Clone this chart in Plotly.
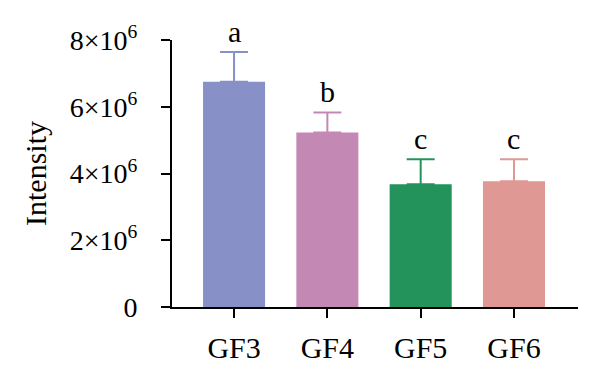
import plotly.graph_objects as go

categories = ["GF3", "GF4", "GF5", "GF6"]
means = [6.75e6, 5.23e6, 3.68e6, 3.77e6]
errors = [0.89e6, 0.60e6, 0.75e6, 0.66e6]
letters = ["a", "b", "c", "c"]
colors = ["#8890c8", "#c389b4", "#23925b", "#e09894"]
ytick_vals = [0, 2e6, 4e6, 6e6, 8e6]
ytick_text = ["0", "2×10<sup>6</sup>", "4×10<sup>6</sup>", "6×10<sup>6</sup>", "8×10<sup>6</sup>"]

FONT = "Liberation Serif"
FS = 30

fig = go.Figure()
for c, m, e, col in zip(categories, means, errors, colors):
    fig.add_trace(go.Bar(
        x=[c], y=[m], width=0.665,
        marker=dict(color=col, line=dict(width=0)),
        error_y=dict(type="data", array=[e], arrayminus=[0], symmetric=False,
                     color=col, thickness=2, width=14),
        showlegend=False,
    ))

for c, m, e, t in zip(categories, means, errors, letters):
    fig.add_annotation(x=c, y=m + e, text=t, showarrow=False,
                       yanchor="bottom", yshift=2,
                       font=dict(family=FONT, size=FS, color="black"))

fig.update_layout(
    width=592, height=373,
    margin=dict(l=164, r=22, t=32, b=74),
    paper_bgcolor="white", plot_bgcolor="white",
    barmode="overlay",
    font=dict(family=FONT, size=FS, color="black"),
)
fig.update_xaxes(
    range=[-0.665, 3.686],
    showline=True, linecolor="black", linewidth=2,
    ticks="outside", ticklen=9, tickwidth=2, tickcolor="black",
    showgrid=False, zeroline=False,
    tickfont=dict(family=FONT, size=FS), ticklabelstandoff=4,
)
fig.update_yaxes(
    range=[0, 8e6],
    tickvals=ytick_vals, ticktext=ytick_text,
    showline=True, linecolor="black", linewidth=2,
    ticks="outside", ticklen=9, tickwidth=2, tickcolor="black",
    showgrid=False, zeroline=False,
    tickfont=dict(family=FONT, size=28), ticklabelstandoff=18,
    title=dict(text="Intensity", font=dict(family=FONT, size=FS), standoff=14),
)

fig.write_html("out.html")
